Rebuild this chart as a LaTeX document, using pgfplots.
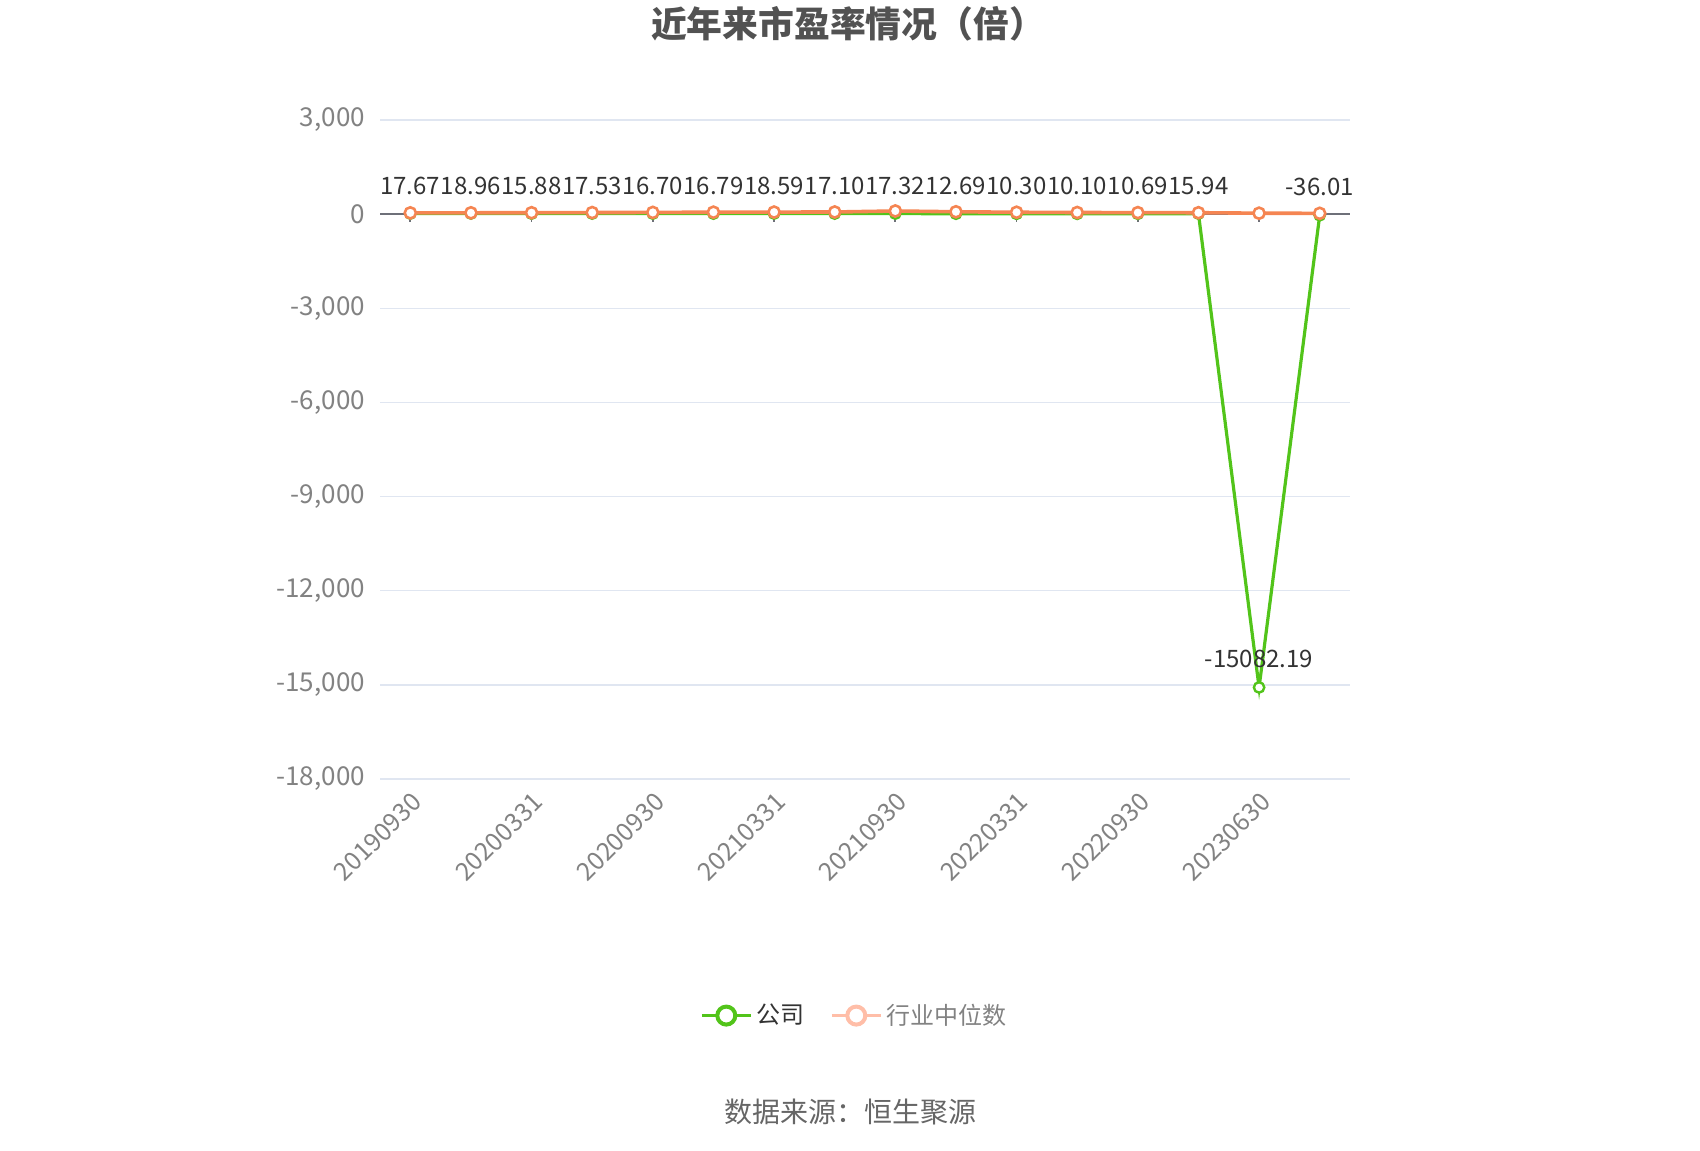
\documentclass[border=0pt]{standalone}
\usepackage{pgfplots}
\pgfplotsset{compat=1.18}
\usepackage{fontspec}
\setmainfont{Noto Sans CJK SC}

\definecolor{gongsi}{RGB}{82,196,26}
\definecolor{hangye}{RGB}{245,133,82}
\definecolor{hangyelt}{RGB}{255,190,168}
\definecolor{gridc}{RGB}{224,230,241}
\definecolor{zeroc}{RGB}{110,112,121}
\definecolor{labc}{RGB}{130,130,130}
\definecolor{txtc}{RGB}{51,51,51}

\begin{document}
\begin{tikzpicture}
\useasboundingbox (0,0) rectangle (850pt,575pt);

\node[font=\fontsize{17.9pt}{21pt}\selectfont\bfseries, text=txtc!85!white] at (424pt,563pt) {近年来市盈率情况（倍）};
\node[font=\fontsize{14pt}{16pt}\selectfont, text=black!60] at (425pt,19pt) {数据来源：恒生聚源};

\begin{axis}[
    at={(190pt,185.5pt)}, anchor=south west,
    scale only axis,
    width=485pt, height=329.5pt,
    xmin=-0.5, xmax=15.5,
    ymin=-18000, ymax=3000,
    scaled ticks=false,
    ytick={-18000,-15000,...,3000},
    xtick={0,2,...,14},
    xticklabels={20190930,20200331,20200930,20210331,20210930,20220331,20220930,20230630},
    x tick label style={rotate=45, anchor=east, inner sep=0pt, yshift=-9pt, xshift=-4pt, text=labc,
        font=\fontsize{12.5pt}{14pt}\selectfont},
    y tick label style={text=labc, xshift=-4pt, font=\fontsize{13pt}{15pt}\selectfont},
    /pgf/number format/assume math mode=true,
    /pgf/number format/1000 sep={,},
    major tick length=0pt,
    axis line style={draw=none},
    ymajorgrids,
    grid style={gridc, line width=0.7pt},
    legend columns=2,
    legend style={
        at={(0.49,-0.359)}, anchor=center, draw=none, fill=none,
        font=\fontsize{12pt}{14pt}\selectfont,
        /tikz/every even column/.append style={column sep=11pt},
        row sep=0pt, inner sep=0pt,
    },
]
\draw[zeroc, line width=0.9pt] (axis cs:-0.5,0) -- (axis cs:15.5,0);
\pgfplotsinvokeforeach{0,2,...,14}{
    \draw[zeroc, line width=0.9pt] (axis cs:#1,0) -- ([yshift=-4pt]axis cs:#1,0);
}

\addlegendimage{legend image code/.code={
    \draw[gongsi, line width=1.5pt] (0pt,0pt) -- (24.5pt,0pt);
    \draw[gongsi, line width=2pt, fill=white] (12.25pt,0pt) circle (4.5pt);}}
\addlegendentry{\textcolor{txtc}{公司}}
\addlegendimage{legend image code/.code={
    \draw[hangyelt, line width=1.5pt] (0pt,0pt) -- (24.5pt,0pt);
    \draw[hangyelt, line width=2pt, fill=white] (12.25pt,0pt) circle (4.5pt);}}
\addlegendentry{\textcolor{labc}{行业中位数}}

\addplot[
    forget plot,
    color=gongsi, line width=1.6pt,
    mark=*, mark size=2.6pt,
    mark options={fill=white, line width=1.2pt},
    nodes near coords={\pgfmathprintnumber[fixed,fixed zerofill,precision=2,1000 sep={}]{\pgfplotspointmeta}},
    nodes near coords style={font=\fontsize{12pt}{14pt}\selectfont, text=txtc, anchor=south, inner sep=0pt, yshift=9pt},
] coordinates {
    (0, 17.67) (1, 18.96) (2, 15.88) (3, 17.53)
    (4, 16.70) (5, 16.79) (6, 18.59) (7, 17.10)
    (8, 17.32) (9, 12.69) (10, 10.30) (11, 10.10)
    (12, 10.69) (13, 15.94) (14, -15082.19) (15, -36.01)
};

\addplot[
    forget plot,
    color=hangye, line width=1.8pt,
    mark=*, mark size=2.8pt,
    mark options={fill=white, line width=1.3pt},
] coordinates {
    (0, 40) (1, 42) (2, 45) (3, 50)
    (4, 55) (5, 62) (6, 65) (7, 68)
    (8, 100) (9, 75) (10, 60) (11, 52)
    (12, 48) (13, 45) (14, 30) (15, 25)
};
\end{axis}
\end{tikzpicture}
\end{document}
